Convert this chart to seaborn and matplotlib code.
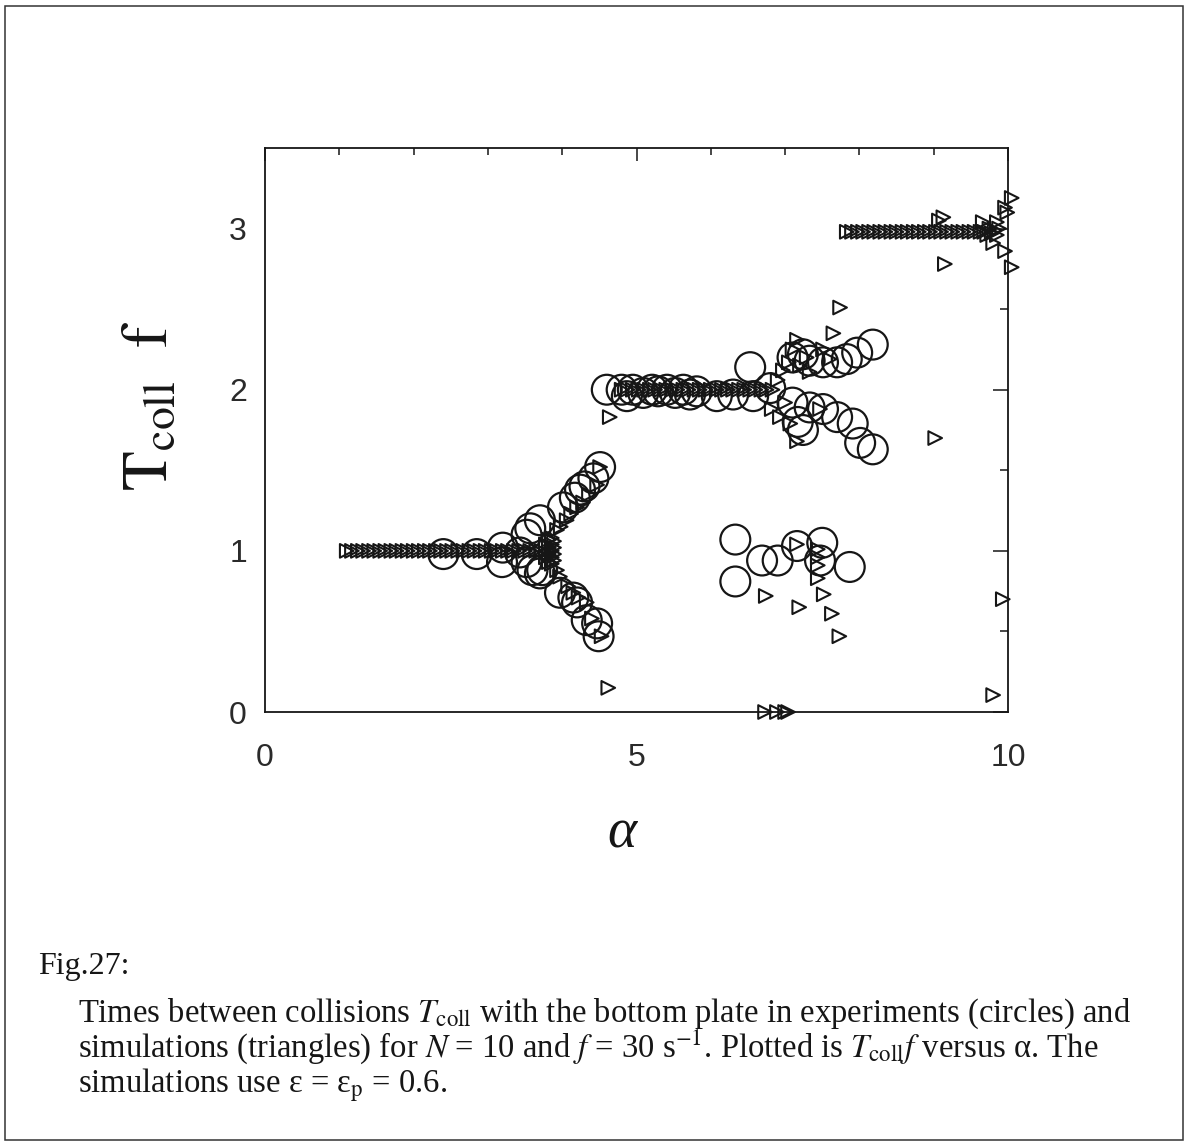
import matplotlib
matplotlib.use("Agg")
import matplotlib.pyplot as plt
from matplotlib.patches import Rectangle
from matplotlib.ticker import FixedLocator
import numpy as np
import pandas as pd
import seaborn as sns

# ---------------- data ----------------
# experiments (circles): alpha, T_coll * f
exp_alpha = [2.40, 2.85, 3.19, 3.20, 3.43, 3.52, 3.52, 3.57, 3.60, 3.70, 3.70, 3.73,
             4.01, 4.17, 4.24, 4.30, 4.42, 4.51,
             3.97, 4.15, 4.20, 4.33, 4.47, 4.49,
             4.60, 4.80, 4.87, 4.95, 5.09, 5.21, 5.29, 5.41, 5.52, 5.63, 5.72, 5.81,
             6.08, 6.30, 6.57, 6.80, 6.53,
             7.10, 7.24, 7.33, 7.51, 7.70, 7.83, 7.97, 8.18,
             7.10, 7.17, 7.24, 7.33, 7.51, 7.70, 7.91, 8.01, 8.18,
             6.33, 6.33, 6.69, 6.90, 7.16, 7.50, 7.47, 7.87]
exp_T = [0.98, 0.98, 0.93, 1.02, 0.99, 1.10, 0.93, 1.14, 0.88, 0.86, 1.19, 0.88,
         1.27, 1.33, 1.38, 1.40, 1.45, 1.52,
         0.74, 0.71, 0.68, 0.57, 0.55, 0.47,
         2.00, 2.00, 1.96, 2.00, 1.98, 2.00, 1.99, 2.00, 1.98, 2.00, 1.97, 1.99,
         1.96, 1.97, 1.96, 2.01, 2.14,
         2.20, 2.22, 2.18, 2.17, 2.17, 2.19, 2.23, 2.28,
         1.92, 1.80, 1.75, 1.89, 1.88, 1.83, 1.79, 1.67, 1.63,
         1.07, 0.81, 0.94, 0.94, 1.03, 1.05, 0.94, 0.90]

# simulations (triangles): alpha, T_coll * f
sim_alpha = [
    # period-1 branch
    1.10, 1.17, 1.25, 1.32, 1.40, 1.47, 1.55, 1.62, 1.70, 1.77, 1.85, 1.92,
    2.00, 2.07, 2.15, 2.22, 2.30, 2.37, 2.45, 2.52, 2.60, 2.67, 2.75, 2.82,
    2.90, 2.97, 3.05, 3.12, 3.20, 3.27, 3.35, 3.42, 3.50, 3.57, 3.65, 3.72,
    3.78, 3.78, 3.82, 3.82, 3.82, 3.82, 3.86, 3.86, 3.86, 3.86, 3.86,
    3.89, 3.89, 3.89, 3.89,
    3.93, 3.98, 4.06, 4.12, 4.20, 4.28, 4.36, 4.47, 4.51,
    3.93, 3.97, 4.08, 4.15, 4.22, 4.33, 4.40, 4.53,
    4.62, 4.64,
    # period-2 branch
    4.80, 4.88, 4.95, 5.03, 5.10, 5.18, 5.25, 5.33, 5.40, 5.48, 5.55, 5.63,
    5.70, 5.78, 5.85, 5.93, 6.00, 6.08, 6.15, 6.23, 6.30, 6.38, 6.45, 6.53,
    6.60, 6.68, 6.75, 6.83,
    6.90, 6.97, 7.05, 7.10, 7.16, 7.29, 7.33, 7.51, 7.60, 7.65, 7.74, 7.20,
    6.82, 6.93, 7.07, 7.16, 7.47, 7.00,
    9.02,
    7.16, 7.44, 7.44, 7.44, 7.44, 6.74, 7.19, 7.52, 7.63, 7.73, 9.93, 9.80,
    6.73, 6.89, 7.00, 7.04,
    # period-3 branch
    7.83, 7.90, 7.98, 8.05, 8.13, 8.20, 8.28, 8.35, 8.43, 8.50, 8.58, 8.65,
    8.73, 8.80, 8.88, 8.95, 9.03, 9.10, 9.18, 9.25, 9.33, 9.40, 9.48, 9.55,
    9.63,
    9.68, 9.72, 9.75, 9.78, 9.82, 9.85, 9.88, 9.66, 9.85, 9.80, 9.96, 9.96,
    9.99, 10.05, 10.05, 9.07, 9.13, 9.15]
sim_T = [
    1.00, 1.00, 1.00, 1.00, 1.00, 1.00, 1.00, 1.00, 1.00, 1.00, 1.00, 1.00,
    1.00, 1.00, 1.00, 1.00, 1.00, 1.00, 1.00, 1.00, 1.00, 1.00, 1.00, 1.00,
    1.00, 1.00, 1.00, 1.00, 1.00, 1.00, 1.00, 1.00, 1.00, 1.00, 1.00, 1.00,
    0.96, 1.04, 0.93, 0.98, 1.02, 1.07, 0.92, 0.96, 1.00, 1.04, 1.08,
    0.94, 0.98, 1.02, 1.06,
    1.13, 1.15, 1.19, 1.23, 1.27, 1.30, 1.35, 1.41, 1.52,
    0.88, 0.84, 0.78, 0.74, 0.71, 0.68, 0.58, 0.47,
    0.15, 1.83,
    2.00, 2.00, 2.00, 2.00, 2.00, 2.00, 2.00, 2.00, 2.00, 2.00, 2.00, 2.00,
    2.00, 2.00, 2.00, 2.00, 2.00, 2.00, 2.00, 2.00, 2.00, 2.00, 2.00, 2.00,
    2.00, 2.00, 2.00, 2.00,
    2.06, 2.12, 2.17, 2.25, 2.31, 2.20, 2.11, 2.25, 2.19, 2.35, 2.51, 2.15,
    1.88, 1.83, 1.79, 1.68, 1.88, 1.92,
    1.70,
    1.04, 1.01, 0.96, 0.91, 0.83, 0.72, 0.65, 0.73, 0.61, 0.47, 0.70, 0.105,
    0.00, 0.00, 0.00, 0.00,
    2.98, 2.98, 2.98, 2.98, 2.98, 2.98, 2.98, 2.98, 2.98, 2.98, 2.98, 2.98,
    2.98, 2.98, 2.98, 2.98, 2.98, 2.98, 2.98, 2.98, 2.98, 2.98, 2.98, 2.98,
    2.98,
    2.98, 2.96, 3.00, 2.97, 2.99, 2.96, 3.00, 3.04, 3.04, 2.91, 2.86, 3.13,
    3.10, 3.19, 2.76, 3.05, 3.07, 2.78]

x_major = [0, 5, 10]
x_minor = [1, 2, 3, 4, 6, 7, 8, 9]
y_major = [0, 1, 2, 3]
y_minor = [0.5, 1.5, 2.5]

exp_df = pd.DataFrame({"alpha": exp_alpha, "T": exp_T})
sim_df = pd.DataFrame({"alpha": sim_alpha, "T": sim_T})

# ---------------- style ----------------
sns.set_style("white")
plt.rcParams["font.family"] = ["Liberation Sans", "DejaVu Sans"]
plt.rcParams["mathtext.fontset"] = "stix"

W, H = 1190, 1144
fig = plt.figure(figsize=(W / 100, H / 100), dpi=100)
ax = fig.add_axes([265 / W, 1 - 712 / H, (1008 - 265) / W, (712 - 148) / H])

ink = "#161616"
sns.scatterplot(data=exp_df, x="alpha", y="T", ax=ax, marker="o", s=21.5 ** 2,
                color=ink, facecolor="none", edgecolor=ink, linewidth=1.6,
                legend=False, clip_on=False, zorder=3)
sns.scatterplot(data=sim_df, x="alpha", y="T", ax=ax, marker=">", s=9.8 ** 2,
                color=ink, facecolor="none", edgecolor=ink, linewidth=1.5,
                legend=False, clip_on=False, zorder=4)

ax.set_xlim(0, 10)
ax.set_ylim(0, 3.5)
ax.set_xlabel("")
ax.set_ylabel("")

for s in ax.spines.values():
    s.set_linewidth(1.3)
    s.set_color(ink)

ax.xaxis.set_major_locator(FixedLocator(x_major))
ax.xaxis.set_minor_locator(FixedLocator(x_minor))
ax.yaxis.set_major_locator(FixedLocator(y_major))
ax.yaxis.set_minor_locator(FixedLocator(y_minor))
ax.set_xticklabels([str(v) for v in x_major])
ax.set_yticklabels([str(v) for v in y_major])

ax.tick_params(axis="both", which="both", direction="in", top=True, right=True,
               color=ink, width=1.1)
ax.tick_params(axis="x", which="major", length=9.5, pad=22, labelsize=23)
ax.tick_params(axis="x", which="minor", length=5)
ax.tick_params(axis="y", which="major", length=11, pad=13, labelsize=23)
ax.tick_params(axis="y", which="minor", length=6)
for lab in ax.get_xticklabels() + ax.get_yticklabels():
    lab.set_color("#2a2a2a")

# axis titles
fig.text(150 / W, 1 - 406 / H, r"$\mathrm{T_{coll}\ \ f}$", rotation=90,
         ha="center", va="center", fontsize=47, color=ink)
fig.text(622 / W, 1 - 833 / H, "α", ha="center", va="center", fontsize=40,
         style="italic", family=["Liberation Serif", "DejaVu Serif"], color=ink)

# caption
serif = ["Liberation Serif", "DejaVu Serif"]
fig.text(38 / W, 1 - 974 / H, "Fig.27:", ha="left", va="baseline", fontsize=23,
         family=serif, color=ink)
cap = [
    r"Times between collisions $T_{\rm coll}$ with the bottom plate in experiments (circles) and",
    r"simulations (triangles) for $N$ = 10 and $f$ = 30 s$^{-1}$. Plotted is $T_{\rm coll}f$ versus α. The",
    r"simulations use ε = ε$_{\rm p}$ = 0.6.",
]
for i, line in enumerate(cap):
    fig.text(78 / W, 1 - (1022 + 35 * i) / H, line, ha="left", va="baseline",
             fontsize=23.5, family=serif, color=ink)

# page frame
fig.patches.append(Rectangle((5 / W, 1 - 1140 / H), (1183 - 5) / W, (1140 - 6) / H,
                             transform=fig.transFigure, fill=False,
                             edgecolor="#333333", linewidth=1.1))

fig.savefig("out.png", dpi=100)
